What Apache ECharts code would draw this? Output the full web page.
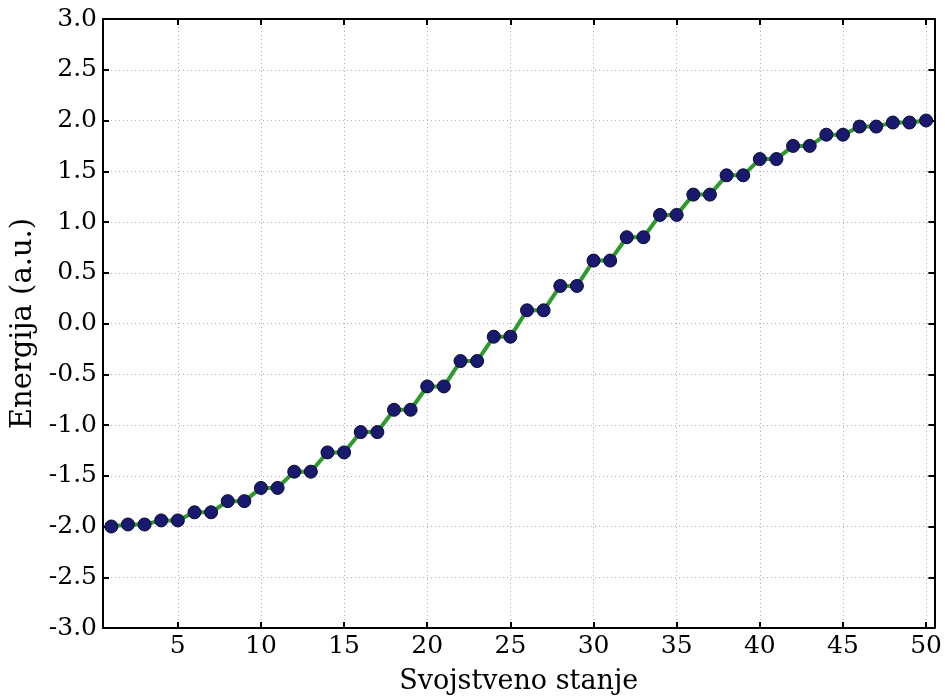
<!DOCTYPE html>
<html>
<head>
<meta charset="utf-8">
<script src="https://cdn.jsdelivr.net/npm/echarts@6/dist/echarts.min.js"></script>
<style>
html,body{margin:0;padding:0;background:#fff;}
#chart{width:945px;height:700px;}
</style>
</head>
<body>
<div id="chart"></div>
<script>
// state indices
const states = [1,2,3,4,5,6,7,8,9,10,11,12,13,14,15,16,17,18,19,20,21,22,23,24,25,
  26,27,28,29,30,31,32,33,34,35,36,37,38,39,40,41,42,43,44,45,46,47,48,49,50];
// energies
const energies = [-2.00,-1.98,-1.98,-1.94,-1.94,-1.86,-1.86,-1.75,-1.75,-1.62,-1.62,
  -1.46,-1.46,-1.27,-1.27,-1.07,-1.07,-0.85,-0.85,-0.62,-0.62,-0.37,-0.37,-0.13,-0.13,
  0.13,0.13,0.37,0.37,0.62,0.62,0.85,0.85,1.07,1.07,1.27,1.27,1.46,1.46,1.62,1.62,
  1.75,1.75,1.86,1.86,1.94,1.94,1.98,1.98,2.00];
const xTicks = [5,10,15,20,25,30,35,40,45,50];
const xTitle = 'Svojstveno stanje';
const yTitle = 'Energija (a.u.)';

const FONT = 'DejaVu Serif';
const chart = echarts.init(document.getElementById('chart'), null, {renderer:'canvas'});
const axisLine = {show:true, onZero:false, lineStyle:{color:'#000', width:2}};
const grid = {left:103, right:10, top:19, bottom:72};
const splitLine = {show:true, lineStyle:{color:'#b0b0b0', type:[1,3], width:1}};
chart.setOption({
  animation:false,
  backgroundColor:'#fff',
  grid: grid,
  xAxis: [{
    type:'value', min:0.5, max:50.5, position:'bottom',
    axisLine: axisLine,
    axisTick:{show:true, inside:true, length:6, customValues:xTicks, lineStyle:{color:'#000', width:2}},
    axisLabel:{show:true, customValues:xTicks, color:'#000', fontFamily:FONT, fontSize:25, margin:6},
    splitLine: splitLine,
    name:xTitle, nameLocation:'middle', nameGap:40,
    nameTextStyle:{color:'#000', fontFamily:FONT, fontSize:27}
  },{
    type:'value', min:0.5, max:50.5, position:'top',
    axisLine: axisLine,
    axisTick:{show:true, inside:true, length:6, customValues:xTicks, lineStyle:{color:'#000', width:2}},
    axisLabel:{show:false},
    splitLine:{show:false}
  }],
  yAxis: [{
    type:'value', min:-3, max:3, interval:0.5, position:'left',
    axisLine: axisLine,
    axisTick:{show:true, inside:true, length:6, lineStyle:{color:'#000', width:2}},
    axisLabel:{show:true, color:'#000', fontFamily:FONT, fontSize:25, margin:6,
      formatter:v=>v.toFixed(1)},
    splitLine: splitLine,
    name:yTitle, nameLocation:'middle', nameGap:64, nameRotate:90,
    nameTextStyle:{color:'#000', fontFamily:FONT, fontSize:29}
  },{
    type:'value', min:-3, max:3, interval:0.5, position:'right',
    axisLine: axisLine,
    axisTick:{show:true, inside:true, length:6, lineStyle:{color:'#000', width:2}},
    axisLabel:{show:false},
    splitLine:{show:false}
  }],
  series:[{
    type:'line',
    xAxisIndex:0, yAxisIndex:0,
    data: states.map((s,i)=>[s, energies[i]]),
    lineStyle:{color:'#2e9a2e', width:4},
    symbol:'circle', symbolSize:13,
    itemStyle:{color:'#191970', borderColor:'#0a0a30', borderWidth:1},
    showSymbol:true,
    z:5
  }]
});
</script>
</body>
</html>
